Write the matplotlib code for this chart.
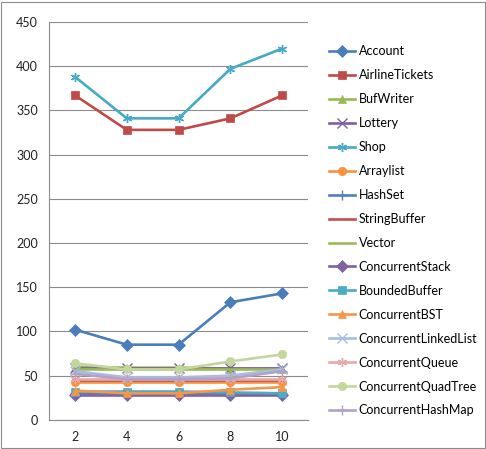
import matplotlib.pyplot as plt
from matplotlib.patches import Rectangle

threads = [2, 4, 6, 8, 10]

account = [102, 85, 85, 133, 143]
airline_tickets = [367, 328, 328, 341, 367]
buf_writer = [60, 59, 59, 58, 58]
lottery = [59, 59, 59, 59, 59]
shop = [388, 341, 341, 397, 420]
arraylist = [43, 43, 43, 43, 43]
hash_set = [30, 30, 30, 30, 30]
string_buffer = [45, 45, 45, 45, 45]
vector = [57, 57, 57, 57, 57]
concurrent_stack = [28, 28, 28, 28, 28]
bounded_buffer = [32, 32, 32, 31, 30]
concurrent_bst = [33, 30, 30, 34, 37]
concurrent_linked_list = [55, 48, 48, 50, 57]
concurrent_queue = [46, 46, 46, 46, 46]
concurrent_quad_tree = [64, 57, 57, 66, 74]
concurrent_hash_map = [52, 46, 46, 47, 55]

ASTERISK = (6, 2, 0)

# name, values, colour, marker
SERIES = [
    ("Account", account, "#4A7EBB", "D"),
    ("AirlineTickets", airline_tickets, "#BE4B48", "s"),
    ("BufWriter", buf_writer, "#98B954", "^"),
    ("Lottery", lottery, "#7D60A0", "x"),
    ("Shop", shop, "#46AAC5", ASTERISK),
    ("Arraylist", arraylist, "#F69240", "o"),
    ("HashSet", hash_set, "#4F81BD", "+"),
    ("StringBuffer", string_buffer, "#C0504D", None),
    ("Vector", vector, "#9BBB59", None),
    ("ConcurrentStack", concurrent_stack, "#8064A2", "D"),
    ("BoundedBuffer", bounded_buffer, "#4BACC6", "s"),
    ("ConcurrentBST", concurrent_bst, "#F79646", "^"),
    ("ConcurrentLinkedList", concurrent_linked_list, "#A9BCE3", "x"),
    ("ConcurrentQueue", concurrent_queue, "#E6A9A8", ASTERISK),
    ("ConcurrentQuadTree", concurrent_quad_tree, "#C3D69B", "o"),
    ("ConcurrentHashMap", concurrent_hash_map, "#B3A2C7", "+"),
]

plt.rcParams["font.family"] = ["Lato", "DejaVu Sans"]

fig = plt.figure(figsize=(4.86, 4.49), dpi=100)
fig.patches.append(Rectangle((0.002, 0.003), 0.995, 0.993, transform=fig.transFigure,
                             fill=False, edgecolor="#8c8c8c", linewidth=0.8))
ax = fig.add_axes([0.101, 0.065, 0.533, 0.886])

pos = list(range(len(threads)))
for name, values, color, marker in SERIES:
    thin = marker in ("x", "+", ASTERISK)
    ax.plot(pos, values, color=color, linewidth=1.9, marker=marker,
            markersize=6 if not thin else 6.5, markeredgewidth=1.0 if thin else 0.5,
            markeredgecolor=color, label=name)

ax.set_xlim(-0.5, len(threads) - 0.5)
ax.set_ylim(0, 450)
ax.set_yticks(range(0, 451, 50))
ax.set_xticks(pos)
ax.set_xticklabels([str(t) for t in threads])
ax.tick_params(axis="both", length=0, labelsize=9, colors="#222222")
ax.tick_params(axis="x", pad=8)
ax.tick_params(axis="y", pad=8)
ax.grid(True, axis="y", color="#8c8c8c", linewidth=0.8)
ax.set_axisbelow(True)
for side in ("top", "right"):
    ax.spines[side].set_visible(False)
for side in ("left", "bottom"):
    ax.spines[side].set_color("#8c8c8c")
    ax.spines[side].set_linewidth(0.8)

ax.legend(loc="upper left", bbox_to_anchor=(0.666, 0.91), bbox_transform=fig.transFigure,
          frameon=False, fontsize=9, labelspacing=0.955, handlelength=2.1,
          handletextpad=0.3, borderaxespad=0)

fig.savefig("out.png", dpi=100)
